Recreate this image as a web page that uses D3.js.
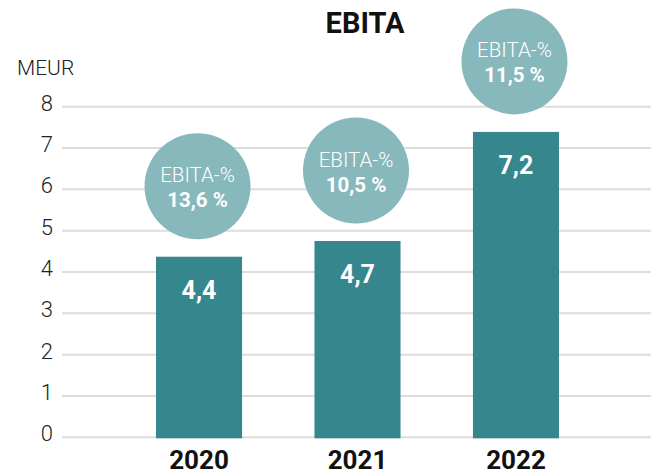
<!DOCTYPE html>
<html>
<head>
<meta charset="utf-8">
<script src="https://cdn.jsdelivr.net/npm/d3@7"></script>
<style>
  html, body { margin: 0; padding: 0; background: #fff; }
  svg { display: block; font-family: Roboto, "Noto Sans", sans-serif; }
</style>
</head>
<body>
<svg id="chart" width="651" height="475"></svg>
<script>
const years = ["2020", "2021", "2022"];
const ebita = [4.37, 4.75, 7.39];
const ebitaLabels = ["4,4", "4,7", "7,2"];
const marginLabels = ["13,6 %", "10,5 %", "11,5 %"];
const yTicks = [0, 1, 2, 3, 4, 5, 6, 7, 8];

const svg = d3.select("#chart");
const W = 651, H = 475;

const y = d3.scaleLinear().domain([0, 8]).range([437.3, 106.7]);
const x = d3.scaleBand().domain(years).range([63, 652]).paddingInner(0.457).paddingOuter(0.587);

// gridlines
svg.append("g").selectAll("line").data(yTicks).join("line")
  .attr("x1", 62).attr("x2", W)
  .attr("y1", d => y(d)).attr("y2", d => y(d))
  .attr("stroke", "#dcdcdc").attr("stroke-width", 2);

// y tick labels
svg.append("g").selectAll("text").data(yTicks).join("text")
  .attr("x", 53).attr("y", d => y(d) + 4)
  .attr("text-anchor", "end")
  .attr("font-size", 22).attr("font-weight", 300).attr("fill", "#222")
  .text(d => d);

// unit
svg.append("text").attr("x", 17).attr("y", 75)
  .attr("font-size", 21).attr("font-weight", 300).attr("fill", "#222")
  .text("MEUR");

// title
svg.append("text").attr("x", 365).attr("y", 33)
  .attr("text-anchor", "middle")
  .attr("font-size", 29).attr("font-weight", 700).attr("fill", "#111")
  .text("EBITA");

const data = years.map((yr, i) => ({ yr, v: ebita[i], lab: ebitaLabels[i], m: marginLabels[i] }));

// bars
svg.append("g").selectAll("rect").data(data).join("rect")
  .attr("x", d => x(d.yr)).attr("width", x.bandwidth())
  .attr("y", d => y(d.v)).attr("height", d => y(0) + 1 - y(d.v))
  .attr("fill", "#35878d");

// bar labels
svg.append("g").selectAll("text").data(data).join("text")
  .attr("x", d => x(d.yr) + x.bandwidth() / 2)
  .attr("y", d => y(d.v) + 42)
  .attr("text-anchor", "middle")
  .attr("font-size", 25).attr("font-weight", 700).attr("fill", "#fff")
  .text(d => d.lab);

// circles
const bub = svg.append("g").selectAll("g").data(data).join("g")
  .attr("transform", d => `translate(${x(d.yr) + x.bandwidth() / 2 - 1.5},${y(d.v) - 70.5})`);
bub.append("circle").attr("r", 53).attr("fill", "#87b8bc");
bub.append("text").attr("y", -4).attr("text-anchor", "middle")
  .attr("font-size", 20.5).attr("font-weight", 300).attr("fill", "#fff")
  .text("EBITA-%");
bub.append("text").attr("y", 21).attr("text-anchor", "middle")
  .attr("font-size", 20.5).attr("font-weight", 700).attr("fill", "#fff")
  .text(d => d.m);

// year labels
svg.append("g").selectAll("text").data(years).join("text")
  .attr("x", d => x(d) + x.bandwidth() / 2)
  .attr("y", 469)
  .attr("text-anchor", "middle")
  .attr("font-size", 26).attr("font-weight", 700).attr("fill", "#111")
  .text(d => d);
</script>
</body>
</html>
